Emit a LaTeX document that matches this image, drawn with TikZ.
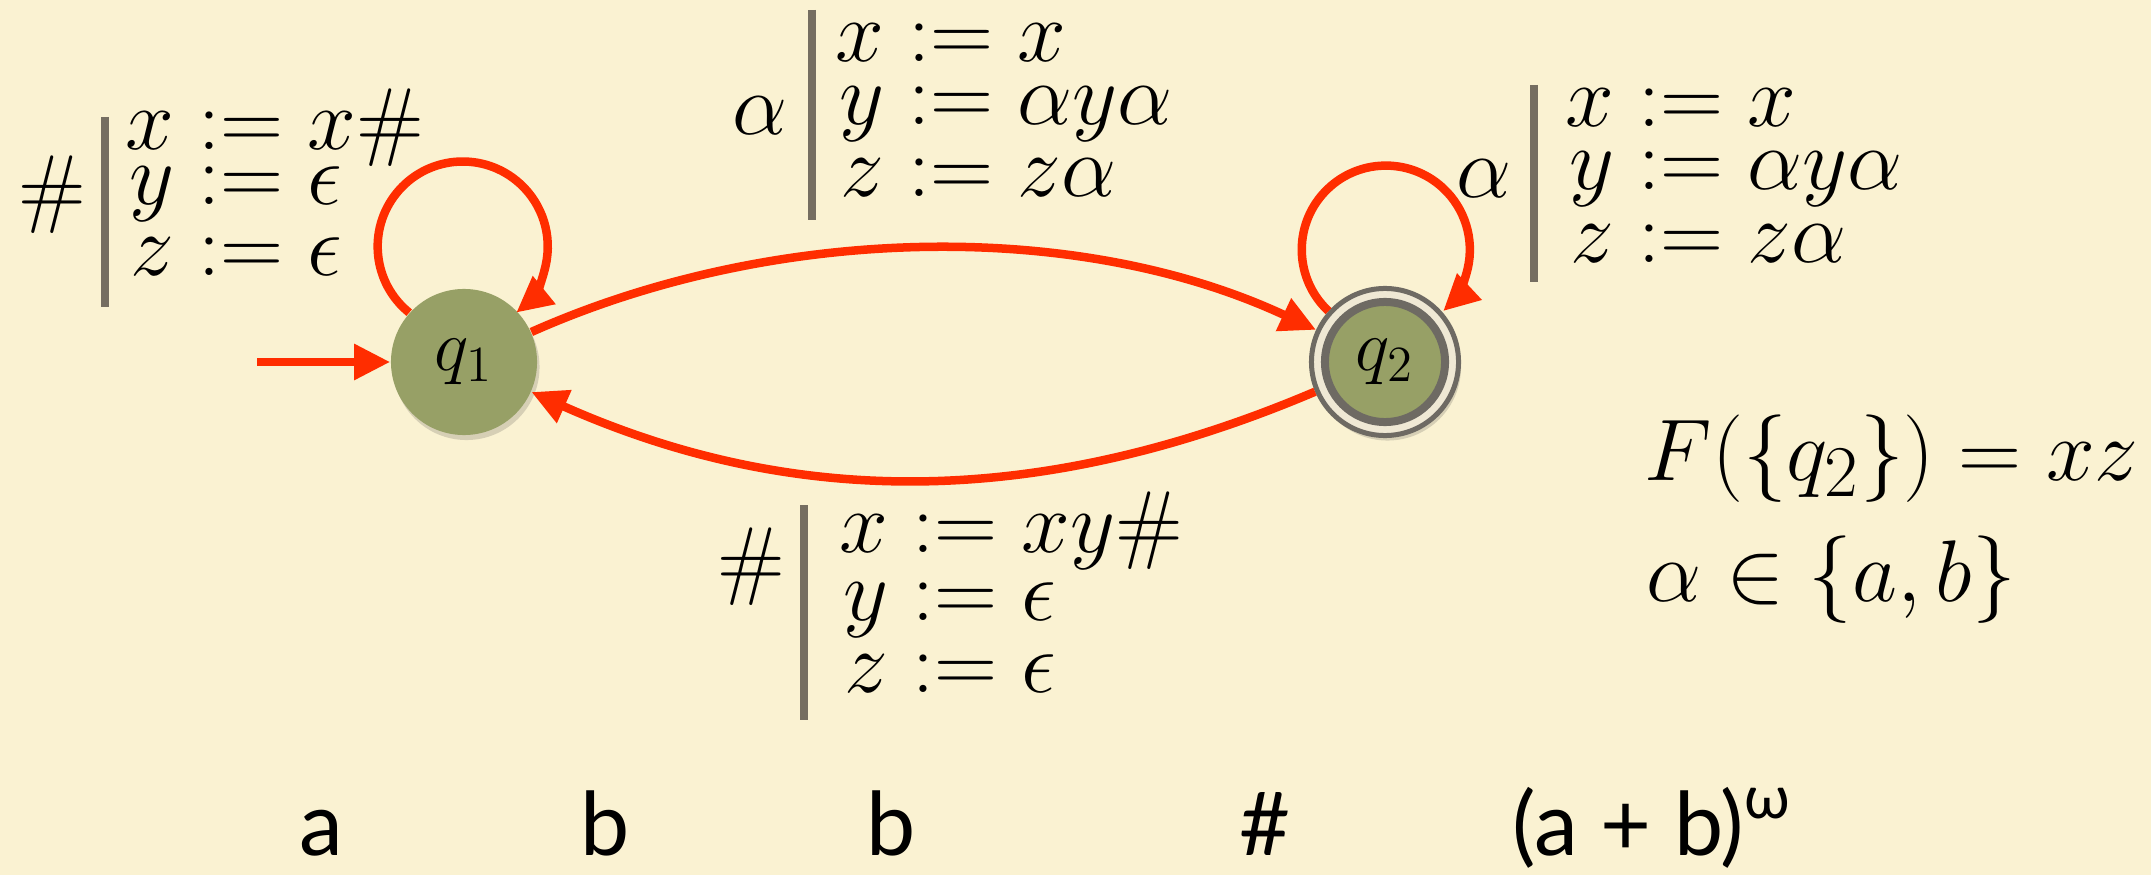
\documentclass[tikz,border=0pt]{standalone}
\usepackage{fontspec}
\newfontfamily\gillfont{Lato}
\usetikzlibrary{arrows.meta,shadows}
\definecolor{bgcol}{HTML}{FAF2D2}
\definecolor{statecol}{HTML}{97A066}
\definecolor{arrcol}{HTML}{FF2D00}
\definecolor{barcol}{HTML}{756E61}
\definecolor{ringcol}{HTML}{6E6A63}
\definecolor{gapcol}{HTML}{EFE8D4}
\newcommand\asgrow[4]{\node[mathtxt, anchor=base west] (#1) at (#2) {\llap{$#3\mkern5mu$}$:= #4$};}
\begin{document}
\begin{tikzpicture}[x=0.01cm,y=0.01cm,
  mathtxt/.style={inner sep=0pt, font=\fontsize{24.88}{28}\selectfont},
  sanstxt/.style={inner sep=0pt, font=\gillfont\fontsize{25}{30}\selectfont},
  shade1/.style={drop shadow={shadow xshift=0.025cm, shadow yshift=-0.05cm, opacity=0.18, fill=black!80}},
  state/.style={circle, fill=statecol, minimum size=1.46cm, inner sep=0pt,
    font=\fontsize{20.74}{26}\selectfont, shade1},
  accouter/.style={circle, fill=gapcol, draw=ringcol, line width=0.05cm,
    minimum size=1.47cm, inner sep=0pt, shade1},
  accinner/.style={circle, fill=statecol, draw=ringcol, line width=0.08cm,
    minimum size=1.2cm, inner sep=0pt, font=\fontsize{20.74}{26}\selectfont},
  arr/.style={draw=arrcol, line width=0.085cm, -{Triangle[length=0.36cm, width=0.34cm]}},
  bar/.style={draw=barcol, line width=0.075cm}]
\path[use as bounding box, fill=bgcol] (0,0) rectangle (2151,875);

% states
\node[state] (q1) at (464,513) {$q_1$};
\node[accouter] (q2) at (1385,513) {};
\node[accinner] (q2in) at (q2.center) {$q_2$};
\coordinate (init) at (257,513);

% transitions
\draw[arr] (init) -- (q1);
\draw[arr] (q1.138) arc[start angle=231, end angle=-51, radius=0.85cm];
\draw[arr] (q1) to[out=24, in=155, looseness=0.86] (q2);
\draw[arr] (q2) to[out=203, in=-24, looseness=0.96] (q1);
\draw[arr] (q2.138) arc[start angle=227, end angle=-47, radius=0.84cm];

% left label (loop on q1)
\node[mathtxt, anchor=base] (lsym) at (52,659) {$\#$};
\coordinate (lbt) at (105,758);
\coordinate (lbb) at (105,568);
\draw[bar] (lbt) -- (lbb);
\asgrow{lx}{198,725}{x}{x\#}
\asgrow{ly}{198,670}{y}{\epsilon}
\asgrow{lz}{198,600}{z}{\epsilon}

% top label (q1 -> q2)
\node[mathtxt, anchor=base] (tsym) at (760,740) {$\alpha$};
\coordinate (tbt) at (812,865);
\coordinate (tbb) at (812,655);
\draw[bar] (tbt) -- (tbb);
\asgrow{tx}{908,813}{x}{x}
\asgrow{ty}{908,750}{y}{\alpha y\alpha}
\asgrow{tz}{908,678}{z}{z\alpha}

% right label (loop on q2)
\node[mathtxt, anchor=base] (rsym) at (1484,677) {$\alpha$};
\coordinate (rbt) at (1534,790);
\coordinate (rbb) at (1534,593);
\draw[bar] (rbt) -- (rbb);
\asgrow{rx}{1638,748}{x}{x}
\asgrow{ry}{1638,685}{y}{\alpha y\alpha}
\asgrow{rz}{1638,612}{z}{z\alpha}

% bottom label (q2 -> q1)
\node[mathtxt, anchor=base] (bsym) at (751,287) {$\#$};
\coordinate (bbt) at (804,370);
\coordinate (bbb) at (804,155);
\draw[bar] (bbt) -- (bbb);
\asgrow{bx}{912,323}{x}{xy\#}
\asgrow{by}{912,255}{y}{\epsilon}
\asgrow{bz}{912,183}{z}{\epsilon}

% output function
\node[mathtxt, anchor=base west] (fout) at (1644,395) {$F(\{q_2\}) = xz$};
\node[mathtxt, anchor=base west] (alph) at (1646,274) {$\alpha \in \{a,b\}$};

% input word
\node[sanstxt, anchor=base] (w1) at (321,20) {a};
\node[sanstxt, anchor=base] (w2) at (605,20) {b};
\node[sanstxt, anchor=base] (w3) at (891,20) {b};
\node[sanstxt, anchor=base] (w4) at (1265,20) {\#};
\node[sanstxt, anchor=base west] (w5) at (1512,20) {(a + b)\raisebox{0.42em}{\fontsize{17}{20}\selectfont ω}};
\end{tikzpicture}
\end{document}
